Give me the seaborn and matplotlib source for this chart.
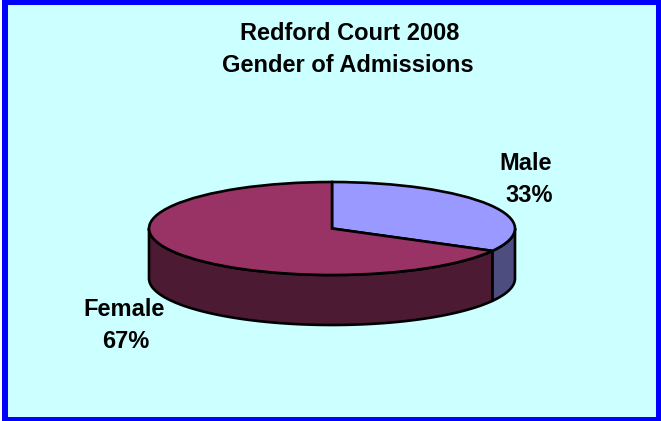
import numpy as np
import seaborn as sns
import matplotlib.pyplot as plt
from matplotlib.patches import Rectangle

# Data
categories = ['Male', 'Female']
shares = [33, 67]
top_colors = ['#9999FF', '#993366']
side_colors = ['#4D4D80', '#4D1A33']
title_lines = ['Redford Court 2008', 'Gender of Admissions']

W, H = 661, 421
sns.set_theme(style='white')
plt.rcParams['font.family'] = ['Liberation Sans', 'DejaVu Sans']

fig = plt.figure(figsize=(W / 100, H / 100), dpi=100, facecolor='white')

# blue frame and pale panel, in pixels
bg = fig.add_axes([0, 0, 1, 1])
bg.set_xlim(0, W)
bg.set_ylim(H, 0)
bg.axis('off')
bg.add_patch(Rectangle((2, 0), W - 2, H, color='#0000FF', lw=0))
bg.add_patch(Rectangle((8, 5), 648, 412, color='#CCFFFF', lw=0))

# title and labels
font = {'ha': 'center', 'va': 'center', 'fontsize': 17, 'fontweight': 'bold', 'color': 'black'}
bg.text(349.5, 34, title_lines[0], **font)
bg.text(348, 65.5, title_lines[1], **font)
bg.text(526, 164, categories[0], **font)
bg.text(529, 196, f'{shares[0]}%', **font)
bg.text(124.5, 310, categories[1], **font)
bg.text(126, 342, f'{shares[1]}%', **font)

# pie geometry in pixels: top ellipse plus extruded depth
left, right = 149, 515
top, bottom = 182, 275
depth = 50
ry = (bottom - top) / 2
pie_ax = fig.add_axes([left / W, 1 - (bottom + depth) / H, (right - left) / W, (bottom + depth - top) / H])
pie_ax.patch.set_alpha(0)

# side walls follow the slice angles
d = depth / ry
split = 90 - 360 * shares[0] / sum(shares)
ranges = [(0, split), (split, -180)]
for (a, b), c in zip(ranges, side_colors):
    t = np.radians(np.linspace(a, b, 120))
    xs = np.concatenate([np.cos(t), np.cos(t)[::-1]])
    ys = np.concatenate([np.sin(t), np.sin(t)[::-1] - d])
    pie_ax.fill(xs, ys, facecolor=c, edgecolor='black', linewidth=1.9, joinstyle='round', clip_on=False)

pie_ax.pie(shares, colors=top_colors, startangle=90, counterclock=False, radius=1,
           wedgeprops={'edgecolor': 'black', 'linewidth': 1.9, 'clip_on': False})
pie_ax.set_aspect('auto')
pie_ax.set_xlim(-1, 1)
pie_ax.set_ylim(-1 - d, 1)
pie_ax.axis('off')

fig.savefig('out.png', dpi=100)
